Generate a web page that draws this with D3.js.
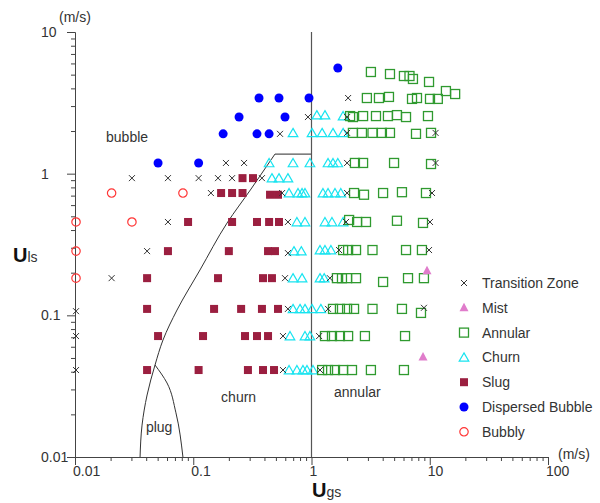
<!DOCTYPE html>
<html>
<head>
<meta charset="utf-8">
<script src="https://cdn.jsdelivr.net/npm/d3@7"></script>
<style>
body{margin:0;background:#fff;}
text{font-family:"Liberation Sans",Arial,sans-serif;fill:#333;}
</style>
</head>
<body>
<svg id="chart" width="600" height="503"></svg>
<script>
// [Ugs, Uls] in m/s
const transition = [
  [2.04,3.42],[0.933,2.51],[2.00,2.51],[0.542,1.91],[2.00,1.94],[11.2,1.94],
  [0.189,1.19],[0.269,1.19],[2.00,1.19],[11.2,1.19],
  [0.0303,0.93],[0.0611,0.93],[0.111,0.93],[0.162,0.93],[0.213,0.93],[0.381,0.93],
  [0.141,0.73],[0.564,0.73],[2.00,0.73],[10.45,0.73],
  [0.0611,0.456],[0.632,0.456],[1.96,0.456],[10.05,0.456],
  [0.0407,0.284],[0.632,0.275],[1.71,0.289],[9.86,0.289],
  [0.0204,0.183],[0.597,0.183],[1.43,0.183],
  [0.0102,0.107],[0.632,0.111],[1.38,0.111],[8.93,0.113],
  [0.0102,0.0714],[0.574,0.0714],[1.16,0.0714],
  [0.0102,0.0411],[0.574,0.0411],[1.18,0.0411]
];
const mist = [[9.48,0.206],[8.77,0.0508]];
const annular = [
  [3.18,5.22],[4.61,5.05],[6.05,4.89],[6.74,4.89],[7.21,4.66],[9.86,4.44],[13.7,3.83],[16.4,3.65],
  [2.94,3.42],[3.72,3.42],[4.52,3.48],[7.08,3.37],[7.80,3.42],[10.05,3.37],[11.7,3.37],
  [2.12,2.55],[2.24,2.51],[2.73,2.55],[3.51,2.55],[4.43,2.55],[5.28,2.59],[6.30,2.51],[9.66,2.55],
  [2.24,1.94],[2.67,1.94],[3.28,1.94],[3.94,1.94],[4.61,1.94],[7.65,1.91],[10.25,1.94],
  [2.33,1.19],[2.73,1.19],[4.99,1.19],[10.25,1.17],
  [2.29,0.73],[2.78,0.71],[4.03,0.73],[5.82,0.74],[9.29,0.73],
  [2.08,0.471],[2.43,0.456],[2.89,0.456],[5.28,0.465],[8.77,0.449],
  [1.85,0.289],[2.04,0.289],[2.38,0.289],[3.28,0.289],[6.30,0.289],[8.59,0.289],
  [1.64,0.183],[1.81,0.183],[2.00,0.183],[2.38,0.183],[4.03,0.172],[6.55,0.183],[8.93,0.183],
  [1.52,0.111],[1.74,0.111],[2.00,0.111],[2.29,0.111],[3.28,0.111],[5.82,0.111],[8.43,0.104],
  [1.30,0.0714],[1.49,0.0714],[1.74,0.0714],[2.04,0.0714],[2.83,0.0714],[6.18,0.0714],
  [1.23,0.0411],[1.38,0.0411],[1.58,0.0411],[1.85,0.0411],[2.20,0.0411],[3.18,0.0411],[6.05,0.0411]
];
const churn = [
  [1.11,2.59],[1.30,2.59],[1.85,2.55],
  [0.698,1.94],[1.01,1.94],[1.23,1.94],[1.52,1.94],[1.85,1.94],
  [0.438,1.19],[0.698,1.19],[0.970,1.19],[1.38,1.19],[1.52,1.19],[1.67,1.19],
  [0.463,0.93],[0.531,0.93],[0.632,0.93],
  [0.646,0.73],[0.769,0.73],[0.832,0.73],[0.881,0.73],[1.25,0.73],[1.38,0.73],[1.58,0.73],[1.77,0.73],
  [0.753,0.456],[0.881,0.456],[1.30,0.456],[1.49,0.456],[1.85,0.456],
  [0.711,0.284],[0.82,0.284],[1.18,0.289],[1.30,0.289],[1.46,0.289],
  [0.698,0.183],[0.832,0.183],[1.18,0.183],[1.28,0.183],
  [0.698,0.111],[0.800,0.111],[0.881,0.111],[1.01,0.111],[1.20,0.111],
  [0.658,0.0714],[0.881,0.0714],[0.970,0.0714],
  [0.646,0.0411],[0.753,0.0411],[0.847,0.0411],[0.916,0.0411],[1.03,0.0411]
];
const slug = [
  [0.261,0.93],[0.320,0.93],
  [0.172,0.73],[0.213,0.73],[0.261,0.73],[0.446,0.71],[0.521,0.71],
  [0.0904,0.456],[0.213,0.456],[0.346,0.456],[0.438,0.456],[0.531,0.456],
  [0.0611,0.284],[0.200,0.284],[0.429,0.284],[0.491,0.284],
  [0.0407,0.183],[0.162,0.183],[0.389,0.183],[0.463,0.183],
  [0.0407,0.111],[0.150,0.111],[0.254,0.111],[0.381,0.111],[0.521,0.111],
  [0.0504,0.0714],[0.121,0.0714],[0.274,0.0714],[0.346,0.0714],[0.429,0.0714],
  [0.0407,0.0411],[0.111,0.0411],[0.290,0.0411],[0.389,0.0411],[0.482,0.0411]
];
const dispersed = [
  [1.67,5.57],[0.360,3.42],[0.531,3.42],[0.953,3.42],[0.244,2.51],[0.597,2.51],
  [0.179,1.91],[0.346,1.91],[0.438,1.91],[0.0504,1.19],[0.111,1.19]
];
const bubbly = [[0.0204,0.73],[0.0818,0.73],[0.0102,0.456],[0.0303,0.456],[0.0102,0.284],[0.0102,0.183]];

// flow regime boundaries
const bubbleSlugLine = [[0.491,1.375],[0.308,0.779],[0.193,0.448],[0.114,0.209],[0.0729,0.109],
  [0.0555,0.067],[0.0475,0.0446],[0.0407,0.0274],[0.0369,0.0168],[0.0355,0.01]];
const topLine = [[0.491,1.375],[1,1.375]];
const annularLine = [[1,0.01],[1,10]];
const plugLine = [[0.0475,0.0446],[0.060,0.0333],[0.0714,0.0205],[0.0818,0.01]];

const xTicks = [0.01,0.1,1,10,100];
const yTicks = [0.01,0.1,1,10];
const regionLabels = [["bubble",0.0183,1.67],["churn",0.172,0.0244],["plug",0.0398,0.015],["annular",1.55,0.0265]];
const legendNames = ["Transition Zone","Mist","Annular","Churn","Slug","Dispersed Bubble","Bubbly"];

const svg = d3.select("#chart");
const xScale = d3.scaleLog().domain([0.01,100]).range([75,548]);
const yScale = d3.scaleLog().domain([0.01,10]).range([457,32]);

// axes
const xAxis = d3.axisBottom(xScale).tickValues(xScale.ticks()).tickSize(4).tickFormat("");
const gx = svg.append("g").attr("transform","translate(0,457)").call(xAxis);
const yAxis = d3.axisLeft(yScale).tickValues(yScale.ticks()).tickSize(4).tickFormat("");
const gy = svg.append("g").attr("transform","translate(75,0)").call(yAxis);
[gx,gy].forEach(g=>{
  g.select(".domain").attr("stroke","#444");
  g.selectAll(".tick line").attr("stroke","#444");
});
gx.selectAll(".tick line").filter(d=>xTicks.includes(d)).attr("y2",8);
gy.selectAll(".tick line").filter(d=>yTicks.includes(d)).attr("x2",-8);

svg.selectAll(".xlab").data(xTicks).enter().append("text")
  .attr("x",d=>xScale(d)-2).attr("y",476).attr("font-size",14).text(d=>d);
svg.selectAll(".ylab").data(yTicks).enter().append("text")
  .attr("x",41).attr("y",d=>yScale(d)+5).attr("font-size",14).text(d=>d);

svg.append("text").attr("x",59).attr("y",22).attr("font-size",14).text("(m/s)");
svg.append("text").attr("x",558).attr("y",459).attr("font-size",14).text("(m/s)");

const ty = svg.append("text").attr("x",13).attr("y",262);
ty.append("tspan").attr("font-size",20).attr("font-weight","bold").attr("fill","#111").text("U");
ty.append("tspan").attr("font-size",14).text("ls");
const tx = svg.append("text").attr("x",312).attr("y",497);
tx.append("tspan").attr("font-size",20).attr("font-weight","bold").attr("fill","#111").text("U");
tx.append("tspan").attr("font-size",14).text("gs");

// boundaries
const line = d3.line().x(d=>xScale(d[0])).y(d=>yScale(d[1]));
svg.append("path").attr("d",line(annularLine)).attr("stroke","#555").attr("stroke-width",1.2).attr("fill","none");
svg.append("path").attr("d",line(topLine)).attr("stroke","#555").attr("stroke-width",1.2).attr("fill","none");
svg.append("path").attr("d",line.curve(d3.curveMonotoneY)(bubbleSlugLine)).attr("stroke","#333").attr("stroke-width",1).attr("fill","none");
svg.append("path").attr("d",line.curve(d3.curveMonotoneY)(plugLine)).attr("stroke","#333").attr("stroke-width",1).attr("fill","none");

svg.selectAll(".region").data(regionLabels).enter().append("text")
  .attr("x",d=>xScale(d[1])).attr("y",d=>yScale(d[2])).attr("font-size",14).text(d=>d[0]);

// markers
const markers = {
  "Transition Zone": g=>g.append("path").attr("d","M-3,-3L3,3M-3,3L3,-3").attr("stroke","#333").attr("stroke-width",1).attr("fill","none"),
  "Mist": g=>g.append("path").attr("d","M0,-5L4.5,3.5L-4.5,3.5Z").attr("fill","#e07ccb"),
  "Annular": g=>g.append("rect").attr("x",-4.5).attr("y",-4.5).attr("width",9).attr("height",9).attr("fill","none").attr("stroke","#2f9a2f").attr("stroke-width",1.3),
  "Churn": g=>g.append("path").attr("d","M0,-4.5L4.8,3.8L-4.8,3.8Z").attr("fill","none").attr("stroke","#18e4f0").attr("stroke-width",1.2),
  "Slug": g=>g.append("rect").attr("x",-4).attr("y",-4).attr("width",8).attr("height",8).attr("fill","#9b1f40"),
  "Dispersed Bubble": g=>g.append("circle").attr("r",4.5).attr("fill","#0000ff"),
  "Bubbly": g=>g.append("circle").attr("r",4.2).attr("fill","none").attr("stroke","#ff3535").attr("stroke-width",1.2)
};
const series = [["Bubbly",bubbly],["Dispersed Bubble",dispersed],["Slug",slug],["Churn",churn],["Annular",annular],["Mist",mist],["Transition Zone",transition]];
series.forEach(([name,data])=>{
  svg.append("g").selectAll("g").data(data).enter().append("g")
    .attr("transform",d=>"translate("+xScale(d[0])+","+yScale(d[1])+")")
    .each(function(){ markers[name](d3.select(this)); });
});

// legend
const leg = svg.append("g").selectAll("g").data(legendNames).enter().append("g")
  .attr("transform",(d,i)=>"translate(464,"+(283+i*24.8)+")");
leg.each(function(d){ markers[d](d3.select(this)); });
leg.append("text").attr("x",18).attr("y",5).attr("font-size",14).text(d=>d);
</script>
</body>
</html>
